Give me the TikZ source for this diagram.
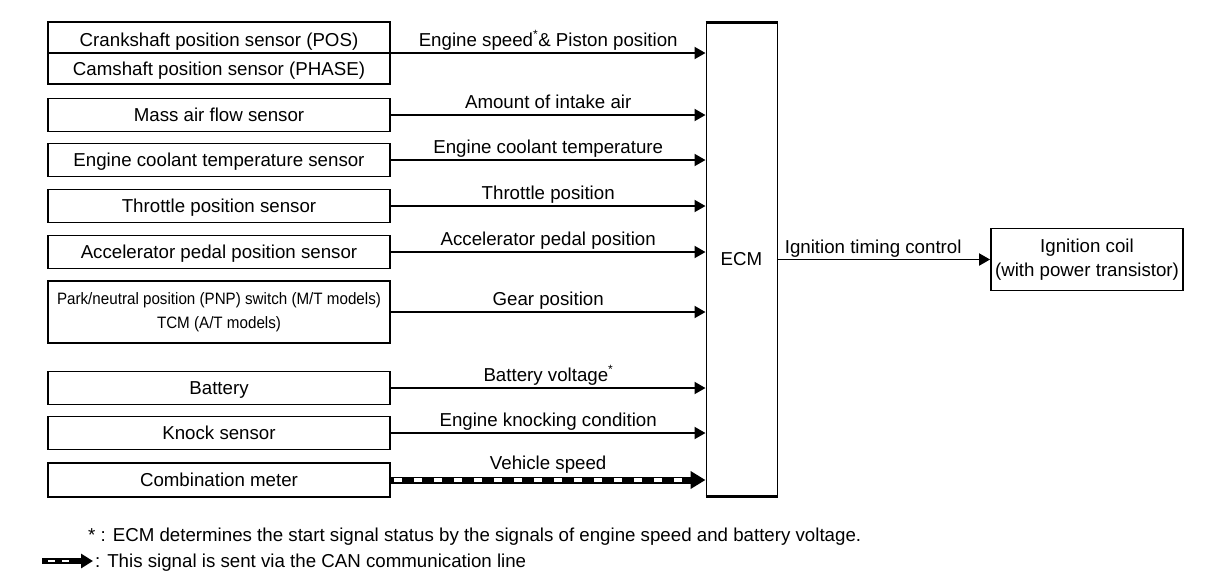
\documentclass[tikz,border=0pt]{standalone}
\usepackage{graphicx}
\usepackage{fontspec}
\setmainfont{Liberation Sans}
\usetikzlibrary{arrows.meta,calc}
\newcommand\mainfs{\fontsize{18.7}{22}\selectfont}
\newcommand\twofs{\fontsize{18.7}{24}\selectfont}
\newcommand\pnpfs{\fontsize{16.5}{24}\selectfont}
\begin{document}
\begin{tikzpicture}[x=1pt,y=-1pt,
  box/.style={draw, line width=1.8pt, minimum width=342pt, minimum height=33pt, inner sep=0pt,
              font=\mainfs, text height=13.4pt, text depth=0pt},
  boxtwo/.style={draw, line width=1.8pt, minimum width=342pt, minimum height=62pt, inner sep=0pt,
              align=center},
  sig/.style={line width=1.9pt, -{Triangle[length=11pt,width=12pt]}},
  lbl/.style={anchor=base, font=\mainfs, inner sep=0pt, yshift=6.5pt},
  can/.style={line width=7pt, -{Triangle[length=15pt,width=17pt]}},
  cangap/.style={white, line width=3.2pt, dash pattern=on 8pt off 12pt},
  txt/.style={font=\mainfs, inner sep=0pt}]
\useasboundingbox (0,0) rectangle (1216,582);

% ECM
\node[draw, line width=1pt, minimum width=71pt, minimum height=473pt, inner sep=0pt,
      font=\mainfs] (ecm) at (741.5,259.5) {ECM};
\draw[line width=2.4pt] (ecm.north west) -- (ecm.north east);
\draw[line width=2.4pt] (ecm.south west) -- (ecm.south east);

% sensor boxes
\node[boxtwo] (b1) at (219,53) {};
\draw[line width=1.6pt] (b1.west) -- (b1.east);
\node[txt, anchor=base] (b1a) at (219,46) {Crankshaft position sensor (POS)};
\node[txt, anchor=base] (b1b) at (219,75) {Camshaft position sensor (PHASE)};

\node[box] (b2) at (219,115) {Mass air flow sensor};
\node[box] (b3) at (219,160) {Engine coolant temperature sensor};
\node[box] (b4) at (219,206) {Throttle position sensor};
\node[box] (b5) at (219,252) {Accelerator pedal position sensor};
\node[boxtwo, font=\pnpfs] (b6) at (219,312)
  {\scalebox{0.92}[1]{Park/neutral position (PNP) switch (M/T models)}\\
   \scalebox{0.92}[1]{TCM (A/T models)}};
\node[box] (b7) at (219,388) {Battery};
\node[box] (b8) at (219,433) {Knock sensor};
\node[box, minimum height=34pt] (b9) at (219,480) {Combination meter};

% ignition coil
\node[boxtwo, font=\twofs, minimum width=192pt] (ign) at (1087,259.5)
  {Ignition coil\\(with power transistor)};

% signals
\draw[sig] (b1.east) -- (b1.east -| ecm.west)
  node[lbl, midway] {Engine speed\makebox[0pt][l]{\raisebox{8pt}{\fontsize{12}{12}\selectfont *}} \& Piston position};
\draw[sig] (b2.east) -- (b2.east -| ecm.west) node[lbl, midway] {Amount of intake air};
\draw[sig] (b3.east) -- (b3.east -| ecm.west) node[lbl, midway] {Engine coolant temperature};
\draw[sig] (b4.east) -- (b4.east -| ecm.west) node[lbl, midway] {Throttle position};
\draw[sig] (b5.east) -- (b5.east -| ecm.west) node[lbl, midway] {Accelerator pedal position};
\draw[sig] (b6.east) -- (b6.east -| ecm.west) node[lbl, midway] {Gear position};
\draw[sig] (b7.east) -- (b7.east -| ecm.west)
  node[lbl, midway] {Battery voltage\raisebox{8pt}{\fontsize{12}{12}\selectfont *}};
\draw[sig] (b8.east) -- (b8.east -| ecm.west) node[lbl, midway] {Engine knocking condition};
\draw[can] (b9.east) -- (b9.east -| ecm.west) node[lbl, midway, yshift=4pt] {Vehicle speed};
\draw[cangap] ($(b9.east)+(3,0)$) -- ($(b9.east -| ecm.west)+(-24,0)$);

\draw[sig] (ecm.east |- ign.west) -- (ign.west)
  node[lbl, pos=0.45] {Ignition timing control};

% legend
\node[txt, anchor=base west] (note1) at (88,541)
  {* : ECM determines the start signal status by the signals of engine speed and battery voltage.};
\coordinate (lgA) at (42,561);
\coordinate (lgB) at (93,561);
\draw[line width=6pt, -{Triangle[length=12pt,width=14pt]}] (lgA) -- (lgB);
\draw[white, line width=2.8pt, dash pattern=on 7pt off 7pt] ($(lgA)+(6,0)$) -- ($(lgA)+(27,0)$);
\node[txt, anchor=base west] (note2) at (95,567) {: This signal is sent via the CAN communication line};
\end{tikzpicture}
\end{document}
